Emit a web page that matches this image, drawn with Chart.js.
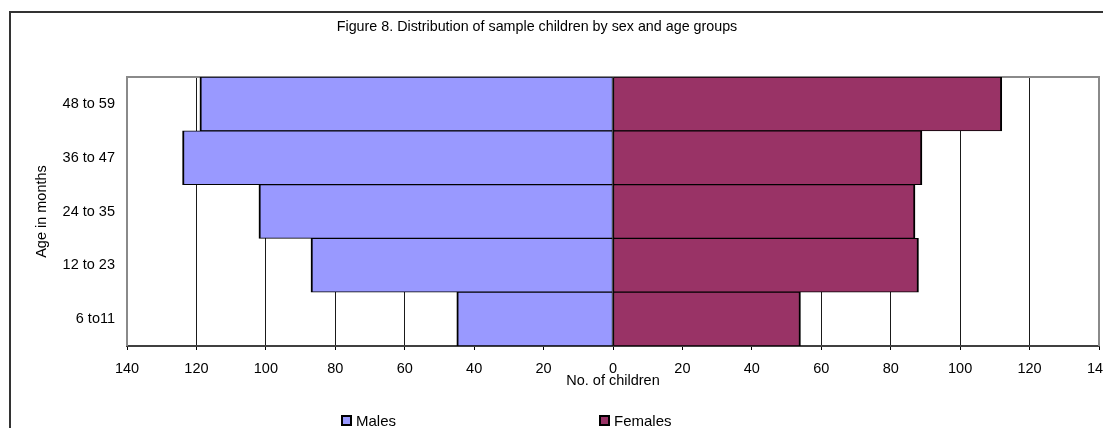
<!DOCTYPE html>
<html>
<head>
<meta charset="utf-8">
<title>Distribution of sample children by sex and age groups</title>
<script src="https://cdn.jsdelivr.net/npm/chart.js@4/dist/chart.umd.min.js"></script>
<style>
  html, body { margin: 0; padding: 0; background: #fff; overflow: hidden; width: 1103px; height: 428px; }
  #frame { position: absolute; left: 9px; top: 11px; width: 1200px; height: 500px; border: 2px solid #333; box-sizing: border-box; }
  #wrap { position: absolute; left: -25px; top: 0; width: 1147px; height: 428px; }
</style>
</head>
<body>
<div id="frame"></div>
<div id="wrap"><canvas id="c" width="1147" height="428"></canvas></div>
<script>
// Age groups, top to bottom
const ageGroups = ['48 to 59', '36 to 47', '24 to 35', '12 to 23', '6 to11'];
// Number of children in each age group
const males = [119, 124, 102, 87, 45];
const females = [112, 89, 87, 88, 54];
// Count axis range and step
const axisMin = -140;
const axisMax = 140;
const axisStep = 20;

const FONT = '"Liberation Sans", Arial, Helvetica, sans-serif';

// Gray frame around the plot area (top, left, right); bottom is the axis line
const plotFrame = {
  id: 'plotFrame',
  beforeDatasetsDraw(chart) {
    const { ctx, chartArea: a } = chart;
    ctx.save();
    ctx.strokeStyle = '#8a8a8a';
    ctx.lineWidth = 2;
    ctx.beginPath();
    ctx.moveTo(a.left, a.bottom);
    ctx.lineTo(a.left, a.top);
    ctx.lineTo(a.right, a.top);
    ctx.lineTo(a.right, a.bottom);
    ctx.stroke();
    ctx.restore();
  }
};

// Legend with widely spaced entries under the chart
const spreadLegend = {
  id: 'spreadLegend',
  afterDraw(chart, args, opts) {
    const ctx = chart.ctx;
    ctx.save();
    ctx.font = opts.fontSize + 'px ' + FONT;
    ctx.textBaseline = 'middle';
    ctx.textAlign = 'left';
    chart.data.datasets.forEach((ds, i) => {
      const x = opts.x + i * opts.spacing;
      const y = opts.y;
      const s = opts.box;
      ctx.fillStyle = ds.backgroundColor;
      ctx.fillRect(x, y - s / 2, s, s);
      ctx.strokeStyle = '#000';
      ctx.lineWidth = 2;
      ctx.strokeRect(x + 1, y - s / 2 + 1, s - 2, s - 2);
      ctx.fillStyle = '#000';
      ctx.fillText(ds.label, x + s + 4, y + 1);
    });
    ctx.restore();
  }
};

new Chart(document.getElementById('c'), {
  type: 'bar',
  data: {
    labels: ageGroups,
    datasets: [
      {
        label: 'Males',
        data: males.map(v => -v),
        backgroundColor: '#9999FF',
        borderColor: '#000',
        borderWidth: { top: 1, bottom: 1, left: 2, right: 1 },
        borderSkipped: false
      },
      {
        label: 'Females',
        data: females,
        backgroundColor: '#993366',
        borderColor: '#000',
        borderWidth: { top: 1, bottom: 1, left: 1, right: 2 },
        borderSkipped: false
      }
    ]
  },
  options: {
    indexAxis: 'y',
    responsive: false,
    animation: false,
    layout: { padding: { top: 0, left: 0, right: 23, bottom: 38 } },
    datasets: { bar: { categoryPercentage: 1, barPercentage: 1 } },
    scales: {
      x: {
        type: 'linear',
        stacked: true,
        min: axisMin,
        max: axisMax,
        afterFit(scale) { scale.height = 44; },
        ticks: {
          stepSize: axisStep,
          callback: v => Math.abs(v),
          color: '#000',
          font: { family: FONT, size: 14.5 },
          padding: 10,
          maxRotation: 0
        },
        grid: {
          color: '#1a1a1a',
          lineWidth: 1,
          tickColor: '#000',
          tickLength: 4,
          drawTicks: true
        },
        border: { display: true, color: '#404040', width: 2 },
        title: {
          display: true,
          text: 'No. of children',
          color: '#000',
          font: { family: FONT, size: 14.5 },
          padding: { top: 0, bottom: 0 }
        }
      },
      y: {
        type: 'category',
        stacked: true,
        afterFit(scale) { scale.width = 152; },
        ticks: {
          color: '#000',
          font: { family: FONT, size: 14.5 },
          padding: 12
        },
        grid: { display: false, drawTicks: false },
        border: { display: false },
        title: {
          display: true,
          text: 'Age in months',
          color: '#000',
          font: { family: FONT, size: 14.5 },
          padding: { top: 58, bottom: 0 }
        }
      }
    },
    plugins: {
      legend: { display: false },
      tooltip: { enabled: false },
      title: {
        display: true,
        text: 'Figure 8. Distribution of sample children by sex and age groups',
        color: '#000',
        font: { family: FONT, size: 14.3, weight: 'normal' },
        padding: { top: 18.6, bottom: 41.24 }
      },
      spreadLegend: { x: 366, y: 420.5, spacing: 258, box: 11, fontSize: 15 }
    }
  },
  plugins: [plotFrame, spreadLegend]
});
</script>
</body>
</html>
